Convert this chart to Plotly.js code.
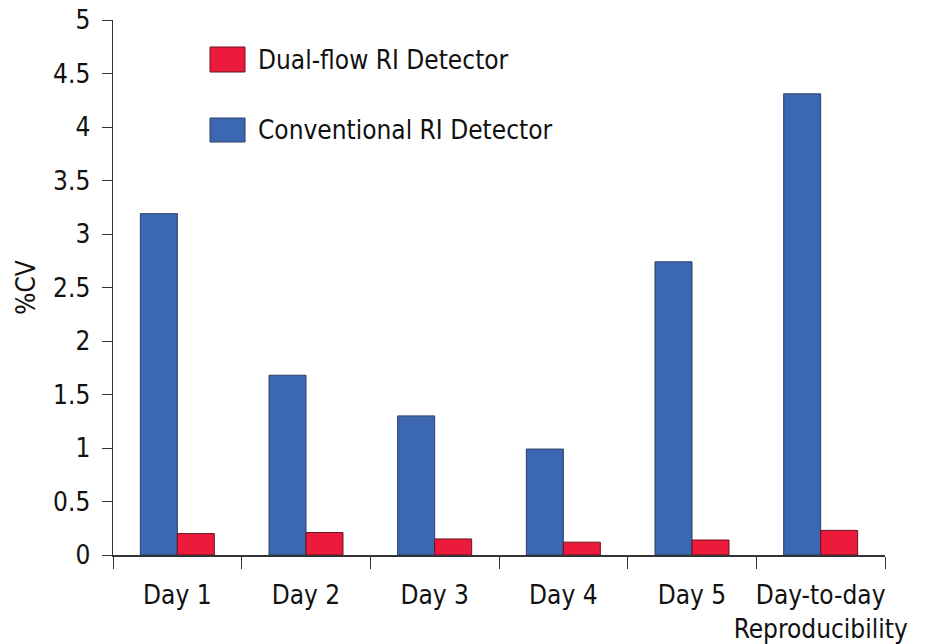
<!DOCTYPE html>
<html>
<head>
<meta charset="utf-8">
<script src="https://cdn.plot.ly/plotly-3.0.1.min.js"></script>
<style>
html,body{margin:0;padding:0;background:#fff;}
#chart{width:944px;height:644px;}
</style>
</head>
<body>
<div id="chart"></div>
<script>
const categories = ["Day 1", "Day 2", "Day 3", "Day 4", "Day 5", "Day-to-day<br>Reproducibility"];
const conventionalCV = [3.19, 1.68, 1.30, 0.99, 2.74, 4.31];
const dualFlowCV = [0.20, 0.21, 0.15, 0.12, 0.14, 0.23];
const seriesNames = ["Conventional RI Detector", "Dual-flow RI Detector"];
const yTicks = [0, 0.5, 1, 1.5, 2, 2.5, 3, 3.5, 4, 4.5, 5];

const FONT = "'DejaVu Sans Condensed', 'Liberation Sans Narrow', Roboto, sans-serif";
const BLUE = "#3C67B1";
const RED = "#EC1B3B";
const FS = 26;

const traces = [
  {type: "bar", x: categories, y: conventionalCV, name: seriesNames[0],
   marker: {color: BLUE, line: {color: "#2a3d66", width: 1}}, showlegend: false},
  {type: "bar", x: categories, y: dualFlowCV, name: seriesNames[1],
   marker: {color: RED, line: {color: "#6a1420", width: 1}}, showlegend: false}
];

function px2x(p){ return (p - 113) / 772; }
function py2y(p){ return (555 - p) / 535; }

const layout = {
  width: 944, height: 644,
  margin: {l: 113, r: 59, t: 20, b: 89},
  paper_bgcolor: "#fff", plot_bgcolor: "#fff",
  font: {family: FONT, size: FS, color: "#111"},
  barmode: "group", bargap: 0.425, bargroupgap: 0,
  xaxis: {
    type: "category", tickson: "boundaries", ticks: "outside", ticklen: 12,
    tickcolor: "#333", showline: true, linecolor: "#333", linewidth: 1.5,
    showgrid: false, zeroline: false, tickangle: 0, automargin: false,
    tickfont: {family: FONT, size: FS, color: "#111"}, ticklabelstandoff: 16,
    fixedrange: true
  },
  yaxis: {
    range: [0, 5], tickvals: yTicks, ticks: "outside", ticklen: 10, tickcolor: "#333",
    showline: true, linecolor: "#333", linewidth: 1.5, showgrid: false, zeroline: false,
    tickfont: {family: FONT, size: FS, color: "#111"}, ticklabelstandoff: 6, automargin: false,
    title: {text: "%CV", font: {family: FONT, size: FS, color: "#111"}, standoff: 10},
    fixedrange: true
  },
  shapes: [
    {type: "rect", xref: "paper", yref: "paper", x0: px2x(210), x1: px2x(245), y0: py2y(72), y1: py2y(47),
     fillcolor: RED, line: {color: "#6a1420", width: 1}},
    {type: "rect", xref: "paper", yref: "paper", x0: px2x(210), x1: px2x(245), y0: py2y(142), y1: py2y(118),
     fillcolor: BLUE, line: {color: "#2a3d66", width: 1}}
  ],
  annotations: [
    {xref: "paper", yref: "paper", x: px2x(256), y: py2y(60), xanchor: "left", yanchor: "middle",
     text: seriesNames[1], showarrow: false, font: {family: FONT, size: FS, color: "#111"}},
    {xref: "paper", yref: "paper", x: px2x(256), y: py2y(130), xanchor: "left", yanchor: "middle",
     text: seriesNames[0], showarrow: false, font: {family: FONT, size: FS, color: "#111"}}
  ]
};

Plotly.newPlot("chart", traces, layout, {displayModeBar: false, staticPlot: true});
</script>
</body>
</html>
